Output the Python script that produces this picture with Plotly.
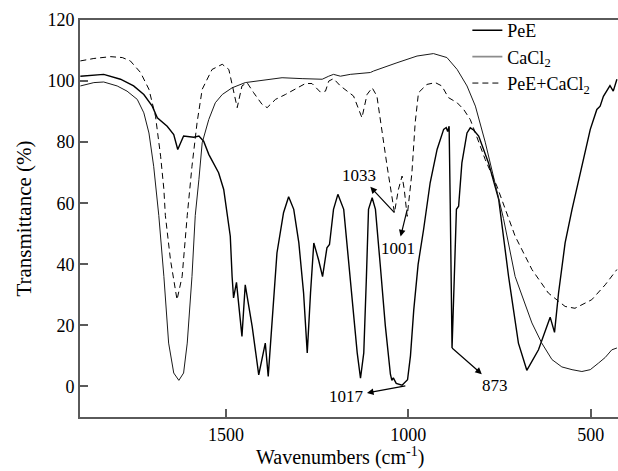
import plotly.graph_objects as go

# FTIR spectra (wavenumber in cm-1, transmittance in %)
pee_wn = [1899, 1862, 1835, 1789, 1753, 1725, 1702, 1688, 1661, 1643, 1632, 1616, 1588, 1574,
          1561, 1547, 1520, 1506, 1497, 1488, 1483, 1479, 1471, 1456, 1447, 1428, 1410, 1392,
          1384, 1373, 1360, 1342, 1328, 1314, 1300, 1287, 1277, 1268, 1259, 1246, 1235, 1223,
          1216, 1205, 1193, 1177, 1159, 1140, 1131, 1122, 1115, 1109, 1099, 1090, 1077, 1063,
          1049, 1045, 1041, 1033, 1017, 1008, 1002, 994, 985, 973, 958, 940, 921, 903, 896,
          892, 888, 885, 880, 874, 868, 862, 853, 839, 830, 821, 807, 780, 752, 725, 698, 675,
          643, 611, 599, 588, 570, 551, 529, 501, 483, 474, 465, 456, 451, 447, 438, 428]
pee_t = [101.6, 102.0, 102.2, 100.6, 98.4, 95.6, 91.8, 88.0, 85.2, 82.5, 77.6, 82.0, 81.6, 82.0,
         80.3, 76.0, 70.0, 64.5, 56.0, 49.2, 36.0, 29.0, 34.1, 16.4, 33.3, 19.7, 3.8, 14.2,
         3.3, 21.9, 43.7, 56.9, 62.1, 58.0, 47.0, 30.6, 11.0, 30.6, 47.0, 41.5, 36.0, 45.4,
         46.5, 58.0, 62.9, 58.0, 35.0, 11.0, 2.7, 11.0, 35.0, 58.0, 61.8, 58.0, 40.0, 20.0,
         4.0, 2.0, 2.8, 1.0, 0.4, 1.5, 2.2, 10.0, 25.0, 40.0, 51.4, 66.7, 77.6, 84.2, 84.8,
         83.5, 85.2, 60.0, 12.6, 35.0, 58.0, 59.0, 73.2, 83.0, 84.7, 84.0, 82.0, 73.2, 61.2,
         36.0, 14.2, 5.3, 12.0, 22.7, 17.7, 30.6, 47.0, 58.0, 70.0, 84.2, 90.7, 91.8, 95.0,
         96.7, 97.8, 98.5, 96.7, 100.6]

cacl2_wn = [1899, 1862, 1835, 1798, 1771, 1743, 1725, 1711, 1698, 1688, 1684, 1670, 1657, 1643,
            1629, 1616, 1606, 1593, 1584, 1574, 1565, 1547, 1529, 1510, 1483, 1447, 1401, 1346,
            1291, 1236, 1218, 1205, 1186, 1159, 1104, 1095, 1031, 976, 931, 894, 866, 839, 816,
            789, 761, 739, 707, 661, 634, 606, 579, 551, 524, 501, 478, 460, 442, 428]
cacl2_t = [98.4, 99.5, 99.7, 98.4, 96.7, 94.0, 89.6, 83.0, 72.1, 61.2, 56.0, 36.0, 14.2, 4.4,
           2.0, 4.4, 14.2, 36.0, 56.0, 67.8, 79.8, 87.4, 92.9, 95.6, 97.8, 99.5, 100.3, 101.1,
           100.8, 100.6, 101.6, 102.2, 101.6, 102.2, 102.8, 103.3, 106.0, 108.2, 109.0, 107.7,
           103.8, 98.4, 91.8, 80.0, 66.0, 55.0, 36.0, 20.8, 14.2, 8.8, 6.4, 5.5, 4.9, 5.5, 7.7,
           9.5, 12.0, 12.6]

mix_wn = [1899, 1862, 1816, 1784, 1762, 1734, 1711, 1693, 1679, 1670, 1666, 1652, 1634, 1620,
          1606, 1593, 1579, 1565, 1538, 1510, 1492, 1479, 1469, 1456, 1442, 1424, 1401, 1387,
          1364, 1337, 1310, 1282, 1264, 1241, 1227, 1218, 1205, 1186, 1150, 1136, 1127, 1113,
          1099, 1086, 1072, 1058, 1045, 1038, 1027, 1017, 1011, 1003, 990, 981, 972, 949, 926,
          908, 890, 866, 848, 830, 816, 789, 757, 725, 707, 661, 616, 570, 543, 497, 460, 428]
mix_t = [106.6, 107.4, 108.0, 107.7, 106.6, 102.8, 97.3, 88.5, 75.4, 64.5, 56.0, 41.5, 28.4, 36.0,
         56.0, 72.1, 86.4, 97.3, 103.8, 105.5, 103.8, 96.2, 91.3, 98.4, 99.5, 96.2, 92.4, 91.3,
         94.0, 95.6, 97.3, 99.2, 99.2, 96.4, 96.7, 100.0, 100.8, 98.4, 95.1, 90.7, 88.0, 95.6,
         97.8, 95.1, 83.0, 72.1, 62.3, 56.9, 64.5, 68.9, 64.5, 55.7, 70.0, 86.4, 96.2, 98.9, 99.5,
         98.4, 94.6, 92.9, 90.7, 87.4, 83.0, 74.3, 65.6, 54.7, 49.2, 38.3, 30.6, 26.2, 25.6, 28.4,
         33.3, 38.3]

# band labels: text, label centre, and the point on the curve the arrow starts from
band_text = ["1033", "1001", "1017", "873"]
band_label_xy = [(1134, 69.2), (1029, 45.2), (1168, -3.3), (762, 0.2)]
band_point_xy = [(1038, 56.9), (1003, 57.9), (1008, 0.2), (880, 12.6)]

FONT = "Liberation Serif"
AXIS_COLOR = "#5a5a5a"

fig = go.Figure()
fig.add_trace(go.Scatter(x=pee_wn, y=pee_t, mode="lines", name="PeE",
                         line=dict(color="black", width=1.4)))
fig.add_trace(go.Scatter(x=cacl2_wn, y=cacl2_t, mode="lines", name="CaCl<sub>2</sub>",
                         line=dict(color="#1a1a1a", width=1.0), showlegend=False))
# legend key for CaCl2 is drawn in grey
fig.add_trace(go.Scatter(x=[None], y=[None], mode="lines", name="CaCl<sub>2</sub>",
                         line=dict(color="#8c8c8c", width=1.6)))
fig.add_trace(go.Scatter(x=mix_wn, y=mix_t, mode="lines", name="PeE+CaCl<sub>2</sub>",
                         line=dict(color="black", width=1.0, dash="6px,4px")))

# each arrow runs from the band on the curve towards its label, head at the label end
for txt, (lx, ly), (px, py) in zip(band_text, band_label_xy, band_point_xy):
    fig.add_annotation(x=px, y=py, ax=lx, ay=ly, axref="x", ayref="y", text=txt,
                       showarrow=True, arrowside="start", startarrowhead=2,
                       startarrowsize=1.1, arrowwidth=1.2, arrowcolor="black",
                       standoff=0, startstandoff=1,
                       font=dict(family=FONT, size=17, color="black"))

# x-axis title, set slightly left of the plot centre, bottom kept inside the page
fig.add_annotation(xref="paper", yref="paper", x=0.483, y=-0.1335, xanchor="center",
                   yanchor="bottom", showarrow=False, borderpad=0,
                   text="Wavenumbers (cm<sup>-1</sup>)",
                   font=dict(family=FONT, size=20, color="black"))

fig.update_layout(
    width=618, height=471,
    margin=dict(l=80, r=0, t=20, b=54),
    paper_bgcolor="white", plot_bgcolor="white",
    font=dict(family=FONT, size=18, color="black"),
    showlegend=True,
    legend=dict(x=0.72, y=1.02, xanchor="left", yanchor="top",
                bgcolor="rgba(0,0,0,0)", borderwidth=0,
                font=dict(family=FONT, size=18), tracegroupgap=0, itemwidth=30),
)
fig.update_xaxes(range=[1900, 425], tickvals=[1500, 1000, 500], ticks="inside", ticklen=8,
                 tickcolor=AXIS_COLOR, tickwidth=1.5, showline=True, linecolor=AXIS_COLOR,
                 linewidth=2, mirror=True, showgrid=False, zeroline=False,
                 tickfont=dict(family=FONT, size=18))
fig.update_yaxes(range=[-10, 120], tickvals=[0, 20, 40, 60, 80, 100, 120], ticks="inside",
                 ticklen=8, tickcolor=AXIS_COLOR, tickwidth=1.5, showline=True,
                 linecolor=AXIS_COLOR, linewidth=2, showgrid=False, zeroline=False,
                 tickfont=dict(family=FONT, size=18),
                 title=dict(text="Transmittance (%)", standoff=10,
                            font=dict(family=FONT, size=21)))

fig.write_html("out.html")
